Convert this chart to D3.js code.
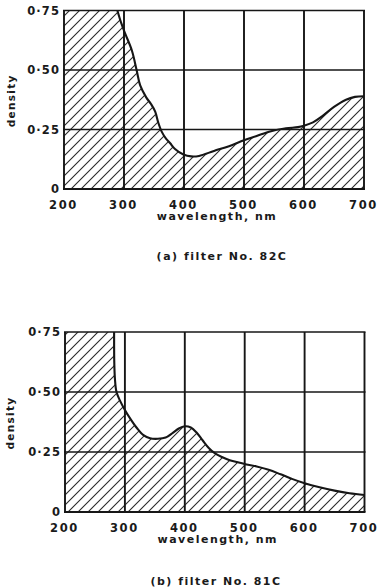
<!DOCTYPE html>
<html>
<head>
<meta charset="utf-8">
<script src="https://cdn.jsdelivr.net/npm/d3@7"></script>
<style>
  html, body { margin: 0; padding: 0; background: #fff; }
  svg text { font-family: "DejaVu Sans", sans-serif; font-weight: bold; fill: #1a1a1a; }
</style>
</head>
<body>
<svg id="chart" width="379" height="588"></svg>
<script>
// Wavelength axis (nm) and density axis
const xTicks = [200, 300, 400, 500, 600, 700];
const yTicks = [0, 0.25, 0.5, 0.75];
const yTickLabels = ["0", "0·25", "0·50", "0·75"];

// Filter No. 82C density curve
const wavelengthA = [289, 295, 302, 313, 321, 327, 337, 345, 352, 357, 363, 370, 377, 385, 399, 412, 425, 450, 475, 500, 520, 545, 570, 590, 600, 615, 630, 650, 670, 685, 700];
const densityA    = [0.75, 0.70, 0.653, 0.583, 0.50, 0.435, 0.385, 0.357, 0.325, 0.28, 0.24, 0.212, 0.192, 0.168, 0.145, 0.137, 0.139, 0.16, 0.18, 0.205, 0.222, 0.243, 0.255, 0.26, 0.266, 0.28, 0.305, 0.345, 0.375, 0.387, 0.39];

// Filter No. 81C density curve
const wavelengthB = [282, 282.3, 283.5, 286, 292, 300, 310, 320, 331, 342, 355, 368, 380, 390, 400, 410, 420, 430, 440, 450, 462, 475, 490, 500, 520, 540, 560, 580, 600, 625, 650, 675, 700];
const densityB    = [0.75, 0.62, 0.55, 0.50, 0.463, 0.425, 0.385, 0.35, 0.32, 0.307, 0.305, 0.31, 0.33, 0.348, 0.357, 0.352, 0.33, 0.298, 0.267, 0.245, 0.229, 0.216, 0.206, 0.20, 0.19, 0.176, 0.157, 0.137, 0.12, 0.103, 0.089, 0.078, 0.071];

const panels = [
  { id: "a", xs: wavelengthA, ys: densityA, left: 64, right: 364, top: 10.5, bottom: 189,
    caption: "(a) filter No. 82C", captionX: 222, captionY: 260, ylabX: 15 },
  { id: "b", xs: wavelengthB, ys: densityB, left: 65, right: 364.5, top: 332, bottom: 512,
    caption: "(b) filter No. 81C", captionX: 216, captionY: 585, ylabX: 14 }
];

const svg = d3.select("#chart");
const ink = "#161616";

// diagonal hatching used for the absorbing region
const defs = svg.append("defs");
defs.append("pattern")
  .attr("id", "hatch")
  .attr("patternUnits", "userSpaceOnUse")
  .attr("width", 10).attr("height", 10)
  .append("path")
  .attr("d", "M-1,1 l2,-2 M0,10 l10,-10 M9,11 l2,-2")
  .attr("stroke", "#2a2a2a")
  .attr("stroke-width", 1.1);

panels.forEach(p => {
  const x = d3.scaleLinear().domain([200, 700]).range([p.left, p.right]);
  const y = d3.scaleLinear().domain([0, 0.75]).range([p.bottom, p.top]);
  const pts = p.xs.map((v, i) => [v, p.ys[i]]);

  const line = d3.line()
    .x(d => x(d[0])).y(d => y(d[1]))
    .curve(d3.curveCatmullRom.alpha(0.5));

  const g = svg.append("g");

  // hatched area: everything below the curve, plus the full band before it starts
  const curvePath = line(pts);
  const regionPath = curvePath +
    `L${x(700)},${y(0)}L${x(200)},${y(0)}L${x(200)},${y(0.75)}Z`;
  defs.append("clipPath").attr("id", "clip-" + p.id)
    .append("path").attr("d", regionPath);
  g.append("rect")
    .attr("x", x(200)).attr("y", y(0.75))
    .attr("width", x(700) - x(200)).attr("height", y(0) - y(0.75))
    .attr("fill", "url(#hatch)")
    .attr("clip-path", `url(#clip-${p.id})`);

  // grid
  g.append("g").selectAll("line").data(xTicks).join("line")
    .attr("x1", d => x(d)).attr("x2", d => x(d))
    .attr("y1", y(0)).attr("y2", y(0.75))
    .attr("stroke", ink).attr("stroke-width", 1.9);
  g.append("g").selectAll("line").data(yTicks).join("line")
    .attr("x1", x(200) - 1).attr("x2", x(700) + 1)
    .attr("y1", d => y(d)).attr("y2", d => y(d))
    .attr("stroke", ink).attr("stroke-width", d => (d === 0 ? 2 : 1.5));

  // density curve
  g.append("path").attr("d", curvePath)
    .attr("fill", "none").attr("stroke", ink)
    .attr("stroke-width", 2.1).attr("stroke-linejoin", "round");

  // tick labels
  g.append("g").selectAll("text").data(xTicks).join("text")
    .attr("x", d => x(d) - 0.5).attr("y", y(0) + 19.5)
    .attr("text-anchor", "middle")
    .attr("font-size", 11.5).attr("letter-spacing", 1.6)
    .text(d => d);
  g.append("g").selectAll("text").data(yTicks).join("text")
    .attr("x", x(200) - 4).attr("y", d => y(d) + 4)
    .attr("text-anchor", "end")
    .attr("font-size", 11.5).attr("letter-spacing", 1.1)
    .text((d, i) => yTickLabels[i]);

  // axis titles
  g.append("text")
    .attr("x", (x(200) + x(700)) / 2 + 3).attr("y", y(0) + 31)
    .attr("text-anchor", "middle")
    .attr("font-size", 11).attr("letter-spacing", 1.5)
    .text("wavelength, nm");
  g.append("text")
    .attr("transform", `translate(${p.ylabX},${(y(0) + y(0.75)) / 2 + 1}) rotate(-90)`)
    .attr("text-anchor", "middle")
    .attr("font-size", 10.5).attr("letter-spacing", 1.3)
    .text("density");

  // caption
  g.append("text")
    .attr("x", p.captionX).attr("y", p.captionY)
    .attr("text-anchor", "middle")
    .attr("font-size", 11).attr("letter-spacing", 1.5)
    .text(p.caption);
});
</script>
</body>
</html>
